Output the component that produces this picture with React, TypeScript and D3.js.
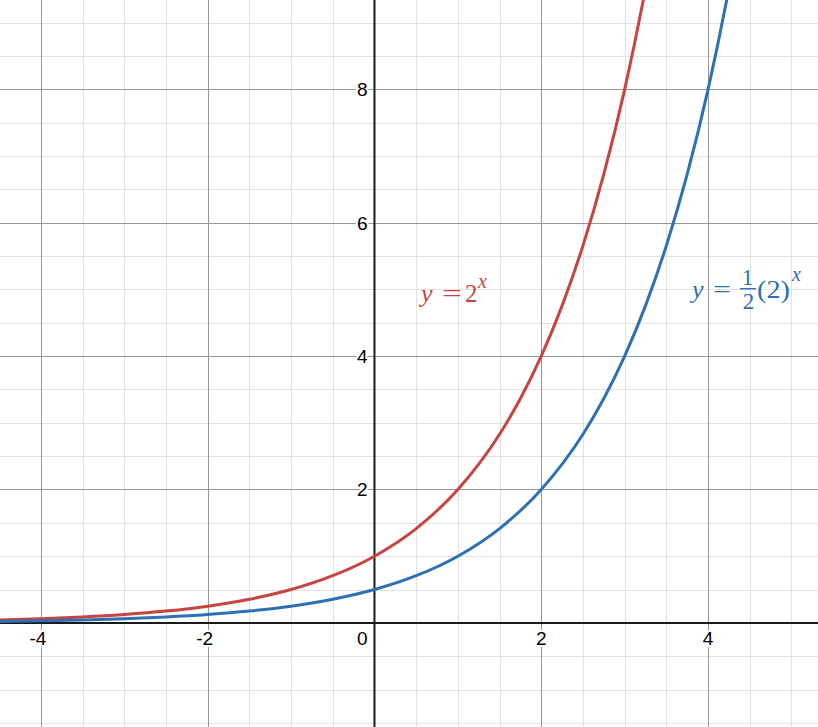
import { useMemo } from 'react';
import * as d3 from 'd3';

// ---------------------------------------------------------------------------
// Graph of y = 2^x and y = 1/2 (2)^x on a Desmos-like grid
// ---------------------------------------------------------------------------

const W = 818;
const H = 727;

// visible window (graph units)
const xView = [-4.49, 5.318];
const yView = [-1.561, 9.339];

const xTickLabels = [-4, -2, 2, 4];
const yTickLabels = [2, 4, 6, 8];

// y = 2^x
const redX = [-4.5, -4, -3.5, -3, -2.5, -2, -1.5, -1, -0.5, 0, 0.5, 1, 1.5, 1.75, 2, 2.25, 2.5, 2.75, 3, 3.25, 3.5];
const redY = [0.044, 0.0625, 0.088, 0.125, 0.177, 0.25, 0.354, 0.5, 0.707, 1, 1.414, 2, 2.828, 3.364, 4, 4.757, 5.657, 6.727, 8, 9.514, 11.31];

// y = 1/2 (2)^x
const blueX = [-4.5, -4, -3.5, -3, -2.5, -2, -1.5, -1, -0.5, 0, 0.5, 1, 1.5, 2, 2.5, 2.75, 3, 3.25, 3.5, 3.75, 4, 4.25, 4.5];
const blueY = [0.022, 0.031, 0.044, 0.0625, 0.088, 0.125, 0.177, 0.25, 0.354, 0.5, 0.707, 1, 1.414, 2, 2.828, 3.364, 4, 4.757, 5.657, 6.727, 8, 9.514, 11.31];

const RED = '#c74440';
const BLUE = '#2d70b3';
const MINOR = '#e1e1e1';
const MAJOR = '#979797';

const tickFont = '"Liberation Sans", Arial, sans-serif';
const mathFont = '"Liberation Serif", "Times New Roman", serif';

export default function App() {
  const x = useMemo(() => d3.scaleLinear().domain(xView).range([0, W]), []);
  const y = useMemo(() => d3.scaleLinear().domain(yView).range([H, 0]), []);

  const crisp = (v: number) => Math.round(v) + 0.5;

  const minorX = d3.range(-4.5, 5.5, 0.5).filter((v) => v % 2 !== 0);
  const minorY = d3.range(-1.5, 9.5, 0.5).filter((v) => v % 2 !== 0);
  const majorX = [-4, -2, 2, 4];
  const majorY = [2, 4, 6, 8];

  const line = d3
    .line<[number, number]>()
    .x((d) => x(d[0]))
    .y((d) => y(d[1]))
    .curve(d3.curveMonotoneX);

  const redPath = line(redX.map((v, i) => [v, redY[i]]) as [number, number][]) || '';
  const bluePath = line(blueX.map((v, i) => [v, blueY[i]]) as [number, number][]) || '';

  const labelStyle = {
    fontFamily: tickFont,
    fontSize: 19,
    fill: '#000',
    stroke: '#fff',
    strokeWidth: 4,
    paintOrder: 'stroke',
    strokeLinejoin: 'round' as const,
  };

  return (
    <>
      <style>{'body{margin:0;background:#fff}'}</style>
      <svg width={W} height={H} style={{ display: 'block', background: '#fff' }}>
        <defs>
          <clipPath id="plot-clip">
            <rect x={0} y={0} width={W} height={H} />
          </clipPath>
        </defs>

        {/* minor grid */}
        <g stroke={MINOR} strokeWidth={1}>
          {minorX.map((v) => (
            <line key={`mx${v}`} x1={crisp(x(v))} x2={crisp(x(v))} y1={0} y2={H} />
          ))}
          {minorY.map((v) => (
            <line key={`my${v}`} x1={0} x2={W} y1={crisp(y(v))} y2={crisp(y(v))} />
          ))}
        </g>

        {/* major grid */}
        <g stroke={MAJOR} strokeWidth={1}>
          {majorX.map((v) => (
            <line key={`Mx${v}`} x1={crisp(x(v))} x2={crisp(x(v))} y1={0} y2={H} />
          ))}
          {majorY.map((v) => (
            <line key={`My${v}`} x1={0} x2={W} y1={crisp(y(v))} y2={crisp(y(v))} />
          ))}
        </g>

        {/* axes */}
        <g stroke="#1a1a1a" strokeWidth={2}>
          <line x1={0} x2={W} y1={y(0)} y2={y(0)} />
          <line x1={x(0)} x2={x(0)} y1={0} y2={H} />
        </g>

        {/* tick labels */}
        <g style={labelStyle}>
          {xTickLabels.map((v) => (
            <text key={`xl${v}`} x={x(v) - (v < 0 ? 3 : 0)} y={y(0) + 22} textAnchor="middle">
              {v}
            </text>
          ))}
          <text x={x(0) - 7} y={y(0) + 22} textAnchor="end">
            0
          </text>
          {yTickLabels.map((v) => (
            <text key={`yl${v}`} x={x(0) - 7} y={y(v) + 6.8} textAnchor="end">
              {v}
            </text>
          ))}
        </g>

        {/* curves */}
        <g clipPath="url(#plot-clip)" fill="none" strokeWidth={3} strokeLinejoin="round" strokeLinecap="round">
          <path d={redPath} stroke={RED} />
          <path d={bluePath} stroke={BLUE} />
        </g>

        {/* y = 2^x */}
        <g fill={RED} fontFamily={mathFont}>
          <text x={421} y={302} fontSize={26} fontStyle="italic">y</text>
          <text x={442} y={302} fontSize={26} textLength={20} lengthAdjust="spacingAndGlyphs">=</text>
          <text x={465} y={302} fontSize={25}>2</text>
          <text x={478} y={288} fontSize={20} fontStyle="italic">x</text>
        </g>

        {/* y = 1/2 (2)^x */}
        <g fill={BLUE} fontFamily={mathFont}>
          <text x={692} y={298} fontSize={26} fontStyle="italic">y</text>
          <text x={713} y={298} fontSize={26} textLength={18} lengthAdjust="spacingAndGlyphs">=</text>
          <text x={747.5} y={285} fontSize={23} textAnchor="middle">1</text>
          <rect x={740} y={288} width={16} height={1.4} />
          <text x={748.5} y={309} fontSize={23} textAnchor="middle">2</text>
          <text x={757} y={298} fontSize={25} textLength={33} lengthAdjust="spacingAndGlyphs">(2)</text>
          <text x={792} y={281} fontSize={20} fontStyle="italic">x</text>
        </g>
      </svg>
    </>
  );
}
